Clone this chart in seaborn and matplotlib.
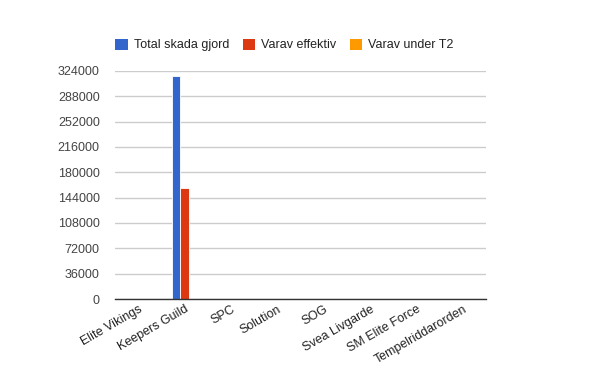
import matplotlib
matplotlib.use("Agg")
import matplotlib.pyplot as plt
import seaborn as sns
import pandas as pd
from matplotlib.patches import Patch

categories = ["Elite Vikings", "Keepers Guild", "SPC", "Solution", "SOG",
              "Svea Livgarde", "SM Elite Force", "Tempelriddarorden"]
total_skada = [0, 317000, 0, 0, 0, 0, 0, 0]
varav_effektiv = [0, 158000, 0, 0, 0, 0, 0, 0]
varav_t2 = [0, 0, 0, 0, 0, 0, 0, 0]
series_names = ["Total skada gjord", "Varav effektiv", "Varav under T2"]
colors = ["#3366cc", "#dc3912", "#ff9900"]
yticks = [0, 36000, 72000, 108000, 144000, 180000, 216000, 252000, 288000, 324000]

rows = []
for name, vals in zip(series_names, [total_skada, varav_effektiv, varav_t2]):
    for c, v in zip(categories, vals):
        rows.append({"cat": c, "series": name, "value": v})
df = pd.DataFrame(rows)

sns.set_theme(style="white")
plt.rcParams["font.family"] = ["Liberation Sans", "DejaVu Sans"]

fig = plt.figure(figsize=(6.0, 3.71), dpi=100)
ax = fig.add_axes([115/600, 1 - 299/371, (486-115)/600, (299-71)/371])

sns.barplot(data=df, x="cat", y="value", hue="series", palette=colors,
            hue_order=series_names, order=categories, width=0.56,
            saturation=1, ax=ax, legend=False, edgecolor="white", linewidth=0.6)

ax.set_ylim(0, 324000)
ax.set_xlim(-0.5, len(categories) - 0.5)
ax.set_yticks(yticks)
ax.set_yticklabels([str(t) for t in yticks], color="#444444", fontsize=9)
ax.yaxis.grid(True, color="#cccccc", linewidth=1)
ax.set_axisbelow(True)
ax.tick_params(axis="y", length=0, pad=11)
ax.tick_params(axis="x", length=0, pad=3)
ax.set_xticks(range(len(categories)))
ax.set_xticklabels(categories, rotation=30, ha="right", rotation_mode="anchor",
                   color="#222222", fontsize=9)
ax.set_xlabel("")
ax.set_ylabel("")
for s in ["top", "right", "left"]:
    ax.spines[s].set_visible(False)
ax.spines["bottom"].set_color("#333333")
ax.spines["bottom"].set_linewidth(1)

handles = [Patch(facecolor=c, edgecolor="none") for c in colors]
fig.legend(handles, series_names, loc="center left",
           bbox_to_anchor=(104/600, 1 - 45/371), ncol=3, frameon=False,
           fontsize=9, handlelength=1.0, handleheight=1.0, handletextpad=0.5,
           columnspacing=1.05, labelcolor="#222222")

fig.savefig("out.png", dpi=100)
